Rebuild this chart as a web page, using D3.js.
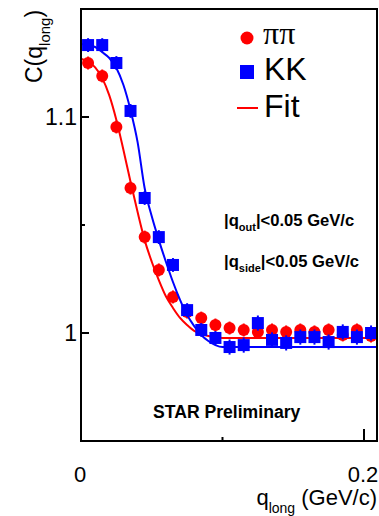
<!DOCTYPE html>
<html>
<head>
<meta charset="utf-8">
<script src="https://cdn.jsdelivr.net/npm/d3@7"></script>
<style>
  body { margin: 0; background: #fff; }
  text { font-family: "Liberation Sans", Arial, sans-serif; }
</style>
</head>
<body>
<div id="chart"></div>
<script>
// q_long bin centres (GeV/c)
const qBins = [0.005, 0.015, 0.025, 0.035, 0.045, 0.055, 0.065, 0.075, 0.085, 0.095,
  0.105, 0.115, 0.125, 0.135, 0.145, 0.155, 0.165, 0.175, 0.185, 0.195, 0.205];
// pi-pi correlation
const piValues = [1.125, 1.119, 1.0954, 1.0671, 1.0444, 1.0292, 1.0167, 1.0097, 1.0069, 1.0037,
  1.0023, 1.0014, 1.0005, 1.0014, 1.0005, 1.0014, 1.0005, 1.0014, 0.9991, 1.0014, 0.9986];
const piErrors = [0.003, 0.003, 0.003, 0.003, 0.003, 0.003, 0.003, 0.003, 0.003, 0.003,
  0.003, 0.003, 0.003, 0.003, 0.003, 0.003, 0.003, 0.003, 0.003, 0.003, 0.003];
// K-K correlation
const kValues = [1.1333, 1.1333, 1.125, 1.1028, 1.0625, 1.0444, 1.0315, 1.0106, 1.0014, 0.9977,
  0.9935, 0.9944, 1.0046, 0.9968, 0.9954, 0.9981, 0.9981, 0.9958, 1.0005, 0.9981, 1.0];
const kErrors = [0.0032, 0.0032, 0.0032, 0.0032, 0.0032, 0.0032, 0.0032, 0.0032, 0.0032, 0.0032,
  0.0035, 0.0035, 0.0035, 0.0035, 0.0035, 0.0035, 0.0035, 0.0035, 0.0035, 0.0035, 0.0035];
// fit curves
const fitQ = [0, 0.005, 0.01, 0.015, 0.02, 0.025, 0.03, 0.035, 0.04, 0.045, 0.05,
  0.055, 0.06, 0.065, 0.07, 0.075, 0.08, 0.085, 0.09, 0.095, 0.1, 0.209];
const piFit = [1.127, 1.1255, 1.123, 1.118, 1.110, 1.0986, 1.0847, 1.070, 1.056, 1.043, 1.033,
  1.0245, 1.017, 1.0116, 1.007, 1.0037, 1.001, 0.9995, 0.9986, 0.998, 0.9977, 0.9977];
const kFit = [1.1338, 1.1333, 1.1324, 1.130, 1.1273, 1.1227, 1.1148, 1.1032, 1.0884, 1.067, 1.054,
  1.043, 1.033, 1.0236, 1.0153, 1.0083, 1.0032, 0.9991, 0.9963, 0.9944, 0.9935, 0.9935];
const yTicks = [1, 1.1];
const yMinor = [1.05];
const xTicks = [0, 0.2];
const xMinor = [0.1];

const width = 379;
const height = 516;

const svg = d3.select("#chart")
    .append("svg")
    .attr("width", width)
    .attr("height", height);

const x = d3.scaleLinear().domain([0, 0.2092]).range([81, 377]);
const y = d3.scaleLinear().domain([0.95, 1.15]).range([441, 9]);

const red = "#ff0000";
const blue = "#0000ff";

// clip to the frame
svg.append("defs").append("clipPath").attr("id", "plotclip")
    .append("rect")
    .attr("x", x(0)).attr("y", y(1.15))
    .attr("width", x(0.2092) - x(0)).attr("height", y(0.95) - y(1.15));

const plot = svg.append("g").attr("clip-path", "url(#plotclip)");

const fitLine = vals => d3.line()
    .x((d, i) => x(fitQ[i]))
    .y((d, i) => y(vals[i]))
    .curve(d3.curveMonotoneX)(vals);

// pions
plot.append("path")
    .attr("d", fitLine(piFit))
    .attr("fill", "none")
    .attr("stroke", red)
    .attr("stroke-width", 2);

plot.selectAll(".pierr")
    .data(qBins)
    .enter().append("line")
    .attr("x1", d => x(d)).attr("x2", d => x(d))
    .attr("y1", (d, i) => y(piValues[i] - piErrors[i]))
    .attr("y2", (d, i) => y(piValues[i] + piErrors[i]))
    .attr("stroke", red)
    .attr("stroke-width", 2);

plot.selectAll(".pi")
    .data(qBins)
    .enter().append("circle")
    .attr("cx", d => x(d))
    .attr("cy", (d, i) => y(piValues[i]))
    .attr("r", 6)
    .attr("fill", red);

// kaons
plot.append("path")
    .attr("d", fitLine(kFit))
    .attr("fill", "none")
    .attr("stroke", blue)
    .attr("stroke-width", 2);

plot.selectAll(".kerr")
    .data(qBins)
    .enter().append("line")
    .attr("x1", d => x(d)).attr("x2", d => x(d))
    .attr("y1", (d, i) => y(kValues[i] - kErrors[i]))
    .attr("y2", (d, i) => y(kValues[i] + kErrors[i]))
    .attr("stroke", blue)
    .attr("stroke-width", 2);

plot.selectAll(".k")
    .data(qBins)
    .enter().append("rect")
    .attr("x", d => x(d) - 6)
    .attr("y", (d, i) => y(kValues[i]) - 6)
    .attr("width", 12)
    .attr("height", 12)
    .attr("fill", blue);

// frame
svg.append("rect")
    .attr("x", x(0)).attr("y", y(1.15))
    .attr("width", x(0.2092) - x(0)).attr("height", y(0.95) - y(1.15))
    .attr("fill", "none")
    .attr("stroke", "#000")
    .attr("stroke-width", 2);

// ticks (pointing inward)
svg.selectAll(".ytick")
    .data(yTicks.concat(yMinor))
    .enter().append("line")
    .attr("x1", x(0))
    .attr("x2", d => x(0) + (yTicks.includes(d) ? 8 : 4))
    .attr("y1", d => y(d)).attr("y2", d => y(d))
    .attr("stroke", "#000").attr("stroke-width", 2);

svg.selectAll(".ylab")
    .data(yTicks)
    .enter().append("text")
    .attr("x", 77)
    .attr("y", d => y(d) + 8)
    .attr("text-anchor", "end")
    .style("font-size", "23px")
    .text(d => d === 1 ? "1" : d3.format(".1f")(d));

svg.selectAll(".xtick")
    .data(xTicks.concat(xMinor))
    .enter().append("line")
    .attr("x1", d => x(d)).attr("x2", d => x(d))
    .attr("y1", y(0.95))
    .attr("y2", d => y(0.95) - (xTicks.includes(d) ? 12 : 4))
    .attr("stroke", "#000").attr("stroke-width", 2);

svg.selectAll(".xlab")
    .data(xTicks)
    .enter().append("text")
    .attr("x", d => x(d) - 1)
    .attr("y", 482)
    .attr("text-anchor", "middle")
    .style("font-size", "22px")
    .text(d => d === 0 ? "0" : d3.format(".1f")(d));

// axis titles
const xt = svg.append("text")
    .attr("x", 377)
    .attr("y", 505)
    .attr("text-anchor", "end")
    .style("font-size", "22px");
xt.append("tspan").text("q");
xt.append("tspan").attr("dy", 8).style("font-size", "14px").text("long");
xt.append("tspan").attr("dy", -8).text(" (GeV/c)");

const yt = svg.append("text")
    .attr("transform", "translate(42,83) rotate(-90)")
    .attr("text-anchor", "start")
    .style("font-size", "23px");
yt.append("tspan").text("C(q");
yt.append("tspan").attr("dy", 8).style("font-size", "15px").text("long");
yt.append("tspan").attr("dy", -8).text(")");

// legend
svg.append("circle").attr("cx", 247).attr("cy", 38).attr("r", 6.5).attr("fill", red);
svg.append("text").attr("x", 263).attr("y", 44)
    .style("font-family", "'Liberation Serif', serif")
    .style("font-size", "32px").text("ππ");
svg.append("rect").attr("x", 240).attr("y", 65).attr("width", 14).attr("height", 14).attr("fill", blue);
svg.append("text").attr("x", 264).attr("y", 80).style("font-size", "32px").text("KK");
svg.append("line").attr("x1", 237).attr("x2", 258).attr("y1", 108).attr("y2", 108)
    .attr("stroke", red).attr("stroke-width", 2);
svg.append("text").attr("x", 264).attr("y", 117).style("font-size", "32px").text("Fit");

// cut annotations
const cut = (yy, sub) => {
  const t = svg.append("text").attr("x", 224).attr("y", yy)
      .style("font-size", "16.6px").style("font-weight", "bold");
  t.append("tspan").text("|q");
  t.append("tspan").attr("dy", 5).style("font-size", "11px").text(sub);
  t.append("tspan").attr("dy", -5).text("|<0.05 GeV/c");
};
cut(226, "out");
cut(267, "side");

svg.append("text")
    .attr("x", 153).attr("y", 418)
    .style("font-size", "17.6px").style("font-weight", "bold")
    .text("STAR Preliminary");
</script>
</body>
</html>
